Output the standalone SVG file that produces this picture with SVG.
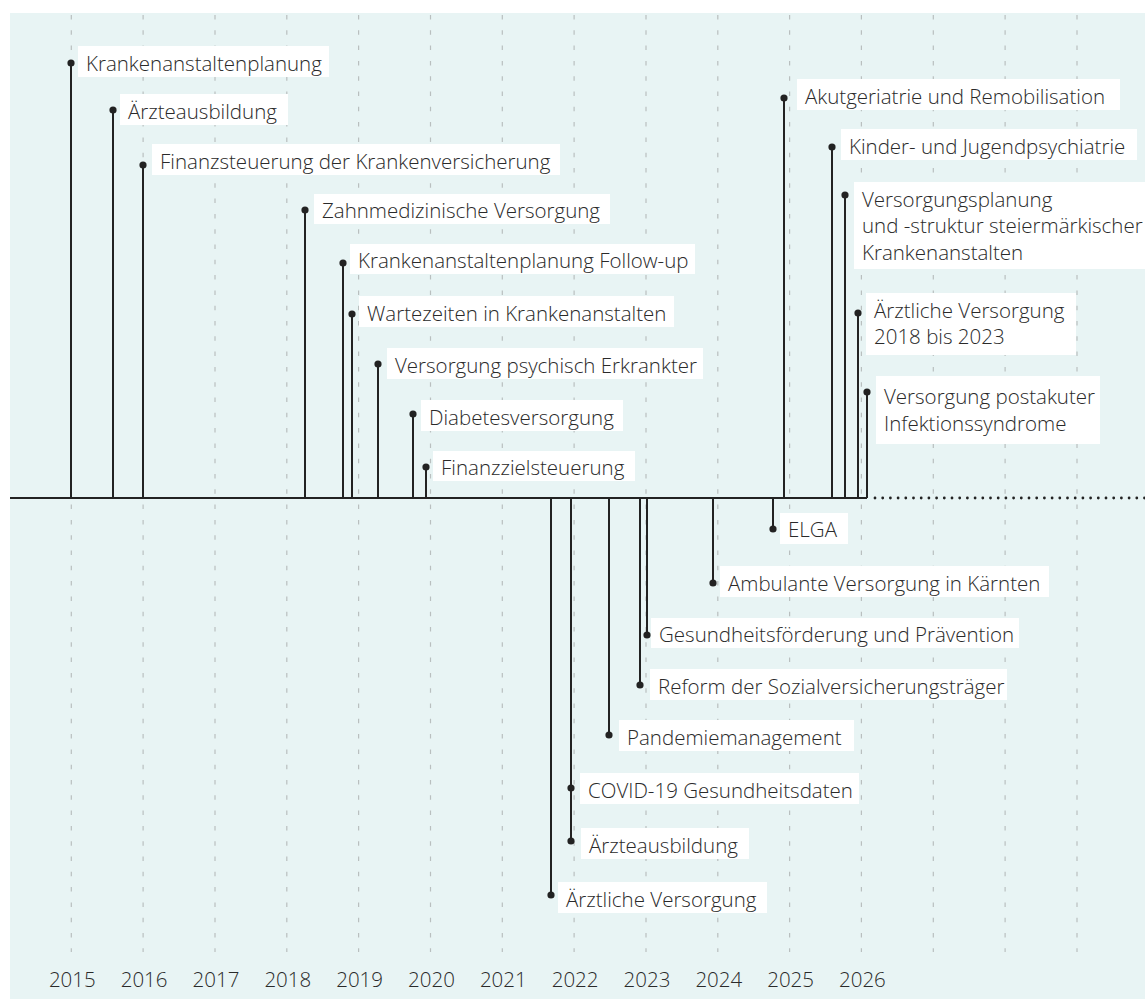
<svg xmlns="http://www.w3.org/2000/svg" width="1145" height="999" viewBox="0 0 1145 999">
<style>
.bg{fill:#e8f4f4}
.grid{stroke:#b9bfbf;stroke-width:1.2;stroke-dasharray:4.5 10.8;fill:none}
.axis{stroke:#222;stroke-width:2.2;fill:none}
.axdot{stroke:#222;stroke-width:2.8;stroke-linecap:round;stroke-dasharray:0 7.7;fill:none}
.stem{stroke:#222;stroke-width:2;fill:none;marker-end:url(#dot)}
.box{fill:#ffffff}
.lbl{font-family:"Open Sans","Noto Sans","Liberation Sans",sans-serif;font-weight:300;font-size:20.5px;fill:#2a2a2a}
.yr{font-family:"Open Sans","Noto Sans","Liberation Sans",sans-serif;font-weight:300;font-size:20.5px;fill:#2a2a2a;text-anchor:middle}
</style>
<defs>
<marker id="dot" viewBox="-4 -4 8 8" markerUnits="userSpaceOnUse" markerWidth="8" markerHeight="8" refX="0" refY="0"><circle r="3.6" fill="#222"/></marker>
</defs>
<rect class="bg" x="10" y="13" width="1140" height="990"/>
<g id="grid">
<path class="grid" d="M71.3 15V952M143.1 15V952M215 15V952M286.8 15V952M358.6 15V952M430.5 15V952M502.3 15V952M574.1 15V952M646 15V952M717.8 15V952M789.6 15V952M861.4 15V952M933.3 15V952M1005.1 15V952M1077 15V952"/>
</g>
<g id="axis">
<path class="axis" d="M10 498H867"/>
<path class="axdot" d="M875 498H1150"/>
</g>
<g id="connectors">
<path class="stem" d="M71 498V63"/>
<path class="stem" d="M113 498V110"/>
<path class="stem" d="M143 498V165"/>
<path class="stem" d="M305 498V210"/>
<path class="stem" d="M343 498V263"/>
<path class="stem" d="M352 498V314"/>
<path class="stem" d="M378 498V364"/>
<path class="stem" d="M413 498V414"/>
<path class="stem" d="M426 498V467"/>
<path class="stem" d="M784 498V98"/>
<path class="stem" d="M832 498V147"/>
<path class="stem" d="M845 498V195"/>
<path class="stem" d="M858 498V313"/>
<path class="stem" d="M867 498V392"/>
<path class="stem" d="M773 498V529"/>
<path class="stem" d="M713 498V583"/>
<path class="stem" d="M647 498V635"/>
<path class="stem" d="M640 498V685"/>
<path class="stem" d="M609 498V735"/>
<path class="stem" d="M571 498V788"/>
<path class="stem" d="M571 498V841"/>
<path class="stem" d="M551 498V895"/>
</g>
<g id="n1"><rect class="box" x="78" y="46" width="251" height="31"/><text class="lbl" x="86" y="70.5">Krankenanstaltenplanung</text></g>
<g id="n2"><rect class="box" x="120" y="94" width="168" height="31"/><text class="lbl" x="128" y="118.5">Ärzteausbildung</text></g>
<g id="n3"><rect class="box" x="152" y="144" width="408" height="31"/><text class="lbl" x="160" y="168.5">Finanzsteuerung der Krankenversicherung</text></g>
<g id="n4"><rect class="box" x="314" y="194" width="296" height="30"/><text class="lbl" x="322" y="218">Zahnmedizinische Versorgung</text></g>
<g id="n5"><rect class="box" x="350" y="244" width="345" height="30"/><text class="lbl" x="358" y="268">Krankenanstaltenplanung Follow-up</text></g>
<g id="n6"><rect class="box" x="359" y="296" width="315" height="31"/><text class="lbl" x="367" y="320.5">Wartezeiten in Krankenanstalten</text></g>
<g id="n7"><rect class="box" x="387" y="348" width="316" height="31"/><text class="lbl" x="395" y="372.5">Versorgung psychisch Erkrankter</text></g>
<g id="n8"><rect class="box" x="421" y="400" width="202" height="31"/><text class="lbl" x="429" y="424.5">Diabetesversorgung</text></g>
<g id="n9"><rect class="box" x="433" y="451" width="202" height="30"/><text class="lbl" x="441" y="475">Finanzzielsteuerung</text></g>
<g id="n10"><rect class="box" x="797" y="79" width="323" height="31"/><text class="lbl" x="805" y="103.5">Akutgeriatrie und Remobilisation</text></g>
<g id="n11"><rect class="box" x="841" y="129" width="296" height="31"/><text class="lbl" x="849" y="153.5">Kinder- und Jugendpsychiatrie</text></g>
<g id="n12"><rect class="box" x="854" y="182" width="296" height="87"/><text class="lbl" x="862" y="206.5">Versorgungsplanung</text><text class="lbl" x="862" y="233">und -struktur steiermärkischer</text><text class="lbl" x="862" y="259.5">Krankenanstalten</text></g>
<g id="n13"><rect class="box" x="866" y="293" width="210" height="62"/><text class="lbl" x="874" y="317.5">Ärztliche Versorgung</text><text class="lbl" x="874" y="344">2018 bis 2023</text></g>
<g id="n14"><rect class="box" x="876" y="376" width="224" height="68"/><text class="lbl" x="884" y="404">Versorgung postakuter</text><text class="lbl" x="884" y="430.5">Infektionssyndrome</text></g>
<g id="n15"><rect class="box" x="780" y="513" width="68" height="31"/><text class="lbl" x="788" y="536.5">ELGA</text></g>
<g id="n16"><rect class="box" x="720" y="566" width="329" height="31"/><text class="lbl" x="728" y="590.5">Ambulante Versorgung in Kärnten</text></g>
<g id="n17"><rect class="box" x="651" y="618" width="368" height="30"/><text class="lbl" x="659" y="642">Gesundheitsförderung und Prävention</text></g>
<g id="n18"><rect class="box" x="650" y="669" width="357" height="31"/><text class="lbl" x="658" y="693.5">Reform der Sozialversicherungsträger</text></g>
<g id="n19"><rect class="box" x="619" y="720" width="235" height="31"/><text class="lbl" x="627" y="744.5">Pandemiemanagement</text></g>
<g id="n20"><rect class="box" x="580" y="773" width="279" height="31"/><text class="lbl" x="588" y="797.5">COVID-19 Gesundheitsdaten</text></g>
<g id="n21"><rect class="box" x="581" y="828" width="168" height="31"/><text class="lbl" x="589" y="852.5">Ärzteausbildung</text></g>
<g id="n22"><rect class="box" x="558" y="882" width="209" height="31"/><text class="lbl" x="566" y="906.5">Ärztliche Versorgung</text></g>
<g id="years">
<text class="yr" x="72.3" y="987">2015</text>
<text class="yr" x="144.1" y="987">2016</text>
<text class="yr" x="216" y="987">2017</text>
<text class="yr" x="287.8" y="987">2018</text>
<text class="yr" x="359.6" y="987">2019</text>
<text class="yr" x="431.5" y="987">2020</text>
<text class="yr" x="503.3" y="987">2021</text>
<text class="yr" x="575.1" y="987">2022</text>
<text class="yr" x="647" y="987">2023</text>
<text class="yr" x="718.8" y="987">2024</text>
<text class="yr" x="790.6" y="987">2025</text>
<text class="yr" x="862.4" y="987">2026</text>
</g>
</svg>
